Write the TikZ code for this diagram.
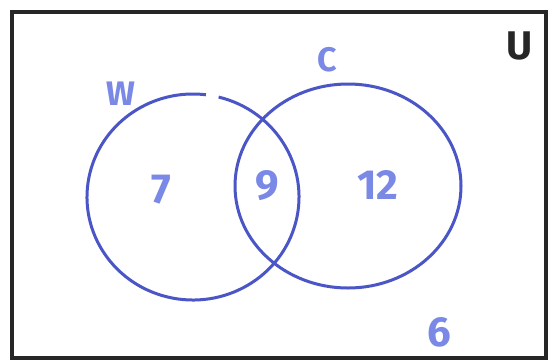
\documentclass[tikz,border=0pt]{standalone}
\usepackage{fontspec}
\setmainfont{Fira Sans}
\usetikzlibrary{calc}
\definecolor{ink}{HTML}{4B56C6}
\definecolor{pen}{HTML}{7A88E6}
\tikzset{
  circ/.style={draw=ink, line width=3pt},
  lbl/.style={text=pen, inner sep=0pt, font=\bfseries\fontsize{42}{42}\selectfont},
  setlbl/.style={text=pen, inner sep=0pt, font=\bfseries\fontsize{34}{34}\selectfont},
}
\begin{document}
\begin{tikzpicture}[x=1pt,y=-1pt]
\useasboundingbox (0,0) rectangle (551,362);
\fill[white] (0,0) rectangle (551,362);
\draw[line width=3.5pt, black!85] (12,12) rectangle (546,358);
% W circle with small gap at top
\draw[circ] ($(193,197)+(284:106 and 103)$) arc[start angle=284, end angle=637, x radius=106, y radius=103];
% C circle
\draw[circ] (348,186) ellipse[x radius=113, y radius=102];
\node[setlbl] (W) at (121,94) {W};
\node[setlbl] (C) at (327,60) {C};
\node[inner sep=0pt, font=\bfseries\fontsize{40}{40}\selectfont, text=black!85] (U) at (520,46) {U};
\node[lbl] (n7) at (161,190) {7};
\node[lbl] (n9) at (267,186) {9};
\node[lbl] (n12) at (378,185) {12};
\node[lbl] (n6) at (439,332) {6};
\end{tikzpicture}
\end{document}
